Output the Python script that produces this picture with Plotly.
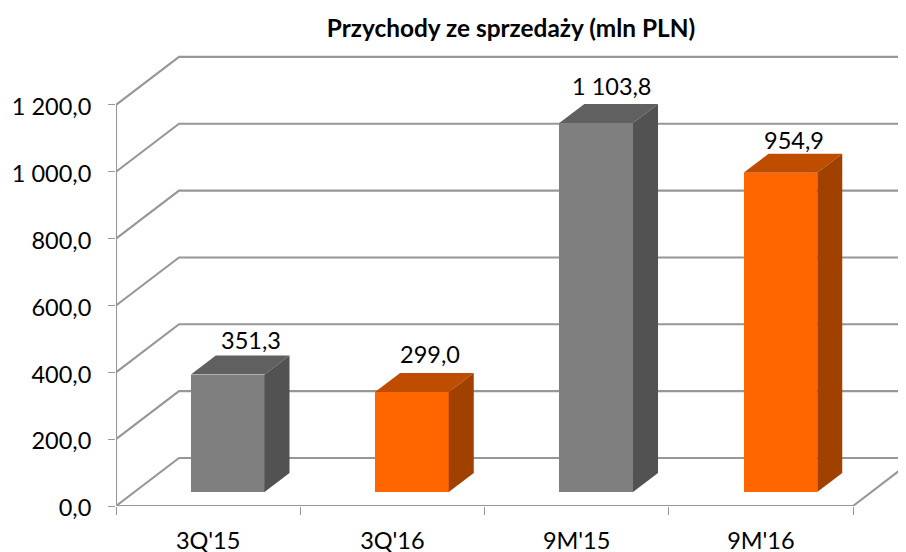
import plotly.graph_objects as go

categories = ["3Q'15", "3Q'16", "9M'15", "9M'16"]
values = [351.3, 299.0, 1103.8, 954.9]
y_ticks = [0, 200, 400, 600, 800, 1000, 1200]
y_tick_labels = ["0,0", "200,0", "400,0", "600,0", "800,0", "1 000,0", "1 200,0"]
title_text = "Przychody ze sprzedaży (mln PLN)"

# figure geometry (the page adds an 8 px body margin around the figure)
PAGE = 8
W, H = 906 - PAGE, 552 - PAGE
ML, MT = 116 - PAGE, 50 - PAGE
MB = 552 - 505.7
UNIT_X = 184.25
UNIT_Y = 0.334
x_max = (W - ML) / UNIT_X
y_max = (H - MB - MT) / UNIT_Y

# pseudo-3D depth expressed in axis units
WALL_DX, WALL_DY = 63 / UNIT_X, 48 / UNIT_Y
BAR_DX, BAR_DY = 25 / UNIT_X, 19 / UNIT_Y
BAR_BASE = 14 / UNIT_Y
BAR_POS, BAR_W = 0.606, 0.4

GRID = "#979797"
FONT = "Lato"
COL = [("#7f7f7f", "#606060", "#525252"), ("#ff6600", "#bf4d00", "#a14100")]
series_col = [COL[0], COL[1], COL[0], COL[1]]
label_dx = [23, 18, 16, 14]
label_dy = [35, 38, 37, 33]


def fmt(v):
    s = f"{v:,.1f}".replace(",", " ").replace(".", ",")
    return s


fig = go.Figure()

# walls, gridlines and floor on the base axes
n = len(categories)
for t in y_ticks:
    fig.add_trace(go.Scatter(
        x=[0, WALL_DX, x_max + 0.1], y=[t, t + WALL_DY, t + WALL_DY], mode="lines",
        line=dict(color=GRID, width=2.1), hoverinfo="skip", showlegend=False, cliponaxis=False))
fig.add_trace(go.Scatter(
    x=[0, 0, None, 0, n, n + WALL_DX], y=[0, y_ticks[-1], None, 0, 0, WALL_DY], mode="lines",
    line=dict(color=GRID, width=2.1), hoverinfo="skip", showlegend=False, cliponaxis=False))

# bars on an overlaying pair of axes so they cover the gridlines
xs = [i + BAR_POS for i in range(n)]
fig.add_trace(go.Bar(
    x=xs, y=values, base=BAR_BASE, width=BAR_W,
    marker=dict(color=[c[0] for c in series_col], line=dict(width=0)),
    xaxis="x2", yaxis="y2", showlegend=False, hoverinfo="skip"))
for xc, v, c in zip(xs, values, series_col):
    xl, xr = xc - BAR_W / 2, xc + BAR_W / 2
    top = BAR_BASE + v
    fig.add_trace(go.Scatter(
        x=[xl, xl + BAR_DX, xr + BAR_DX, xr, xl], y=[top, top + BAR_DY, top + BAR_DY, top, top],
        mode="lines", fill="toself", fillcolor=c[1], line=dict(width=0, color=c[1]),
        xaxis="x2", yaxis="y2", showlegend=False, hoverinfo="skip", cliponaxis=False))
    fig.add_trace(go.Scatter(
        x=[xr, xr + BAR_DX, xr + BAR_DX, xr, xr],
        y=[BAR_BASE, BAR_BASE + BAR_DY, top + BAR_DY, top, BAR_BASE],
        mode="lines", fill="toself", fillcolor=c[2], line=dict(width=0, color=c[2]),
        xaxis="x2", yaxis="y2", showlegend=False, hoverinfo="skip", cliponaxis=False))

annotations = [
    dict(x=xc, y=BAR_BASE + v, xref="x2", yref="y2", text=fmt(v), showarrow=False,
         xanchor="center", yanchor="middle", xshift=dx, yshift=dy,
         font=dict(family=FONT, size=23.5, color="#000000"))
    for xc, v, dx, dy in zip(xs, values, label_dx, label_dy)
]

fig.update_layout(
    width=W, height=H, autosize=False,
    margin=dict(l=ML, r=0, t=MT, b=MB, pad=0, autoexpand=False),
    paper_bgcolor="white", plot_bgcolor="white",
    showlegend=False, bargap=0,
    font=dict(family=FONT, size=23.5, color="#000000"),
    title=dict(text=f"<b>{title_text}</b>", x=(511 - 116) / (906 - 116), xref="paper", xanchor="center",
               y=1 - (28 - PAGE) / H, yref="container", yanchor="middle",
               font=dict(family=FONT, size=24.4, color="#000000")),
    xaxis=dict(range=[0, x_max], tickvals=[i + 0.5 for i in range(n)], ticktext=categories,
               ticks="", showgrid=False, zeroline=False, showline=False, ticklabelstandoff=18,
               automargin=False,
               minor=dict(tickmode="array", tickvals=list(range(n + 1)), ticks="outside", ticklen=8,
                          tickwidth=1.3, tickcolor=GRID, showgrid=False)),
    yaxis=dict(range=[0, y_max], tickvals=y_ticks, ticktext=y_tick_labels, ticks="outside", ticklen=7,
               tickwidth=1.3, tickcolor=GRID, showgrid=False, zeroline=False, showline=False,
               ticklabelstandoff=12, ticklabelshift=2, automargin=False),
    xaxis2=dict(range=[0, x_max], overlaying="x", anchor="y2", visible=False),
    yaxis2=dict(range=[0, y_max], overlaying="y", anchor="x2", visible=False),
    annotations=annotations,
)

fig.write_html("out.html", config=dict(displayModeBar=False))
